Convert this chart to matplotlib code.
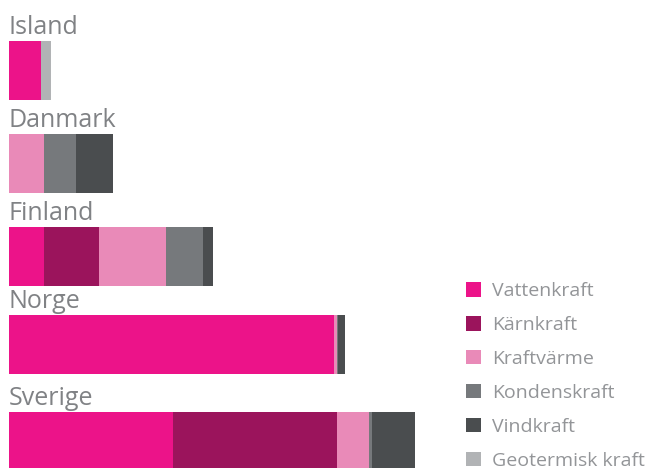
import numpy as np
import matplotlib.pyplot as plt
from matplotlib.patches import Patch

plt.rcParams['font.family'] = ['Open Sans', 'DejaVu Sans']

countries = ["Island", "Danmark", "Finland", "Norge", "Sverige"]
sources = ["Vattenkraft", "Kärnkraft", "Kraftvärme", "Kondenskraft",
           "Vindkraft", "Geotermisk kraft"]
colors = ["#EC1389", "#9B145C", "#E98AB8", "#76797C", "#4A4D4F", "#B1B3B5"]

# TWh
vatten = [14.0, 0.0, 15.4, 142.5, 72.0]
karn = [0.0, 0.0, 24.1, 0.0, 72.0]
kraftvarme = [0.0, 15.4, 29.4, 1.3, 14.0]
konden = [0.0, 14.0, 16.2, 0.4, 1.3]
vind = [0.0, 16.2, 4.4, 3.1, 18.9]
geo = [4.4, 0.0, 0.0, 0.0, 0.0]
series = [vatten, karn, kraftvarme, konden, vind, geo]

fig = plt.figure(figsize=(6.52, 4.68), dpi=100)
ax = fig.add_axes([0, 0, 1, 1])

scale = 2.28  # px per TWh
x0 = 9
ax.set_xlim(-x0 / scale, (652 - x0) / scale)
ax.set_ylim(468, 0)

# bar tops in pixels
tops = np.array([41, 134, 227, 315, 412])
bar_h = 59
left = np.zeros(len(countries))
for vals, c, name in zip(series, colors, sources):
    vals = np.array(vals)
    ax.barh(tops + bar_h / 2, vals, left=left, height=bar_h, color=c,
            linewidth=0, label=name)
    left += vals

for i, name in enumerate(countries):
    ax.text(0, tops[i] - 1, name, fontsize=18, color="#808285",
            ha="left", va="bottom")

handles = [Patch(facecolor=c, edgecolor="none") for c in colors]
ax.legend(handles, sources, loc="upper left", bbox_to_anchor=(0.703, 0.4135),
          frameon=False, fontsize=14, labelcolor="#939598",
          handlelength=0.75, handleheight=0.75, handletextpad=0.6,
          labelspacing=0.82, borderaxespad=0)

ax.axis("off")
fig.savefig("out.png", dpi=100)
